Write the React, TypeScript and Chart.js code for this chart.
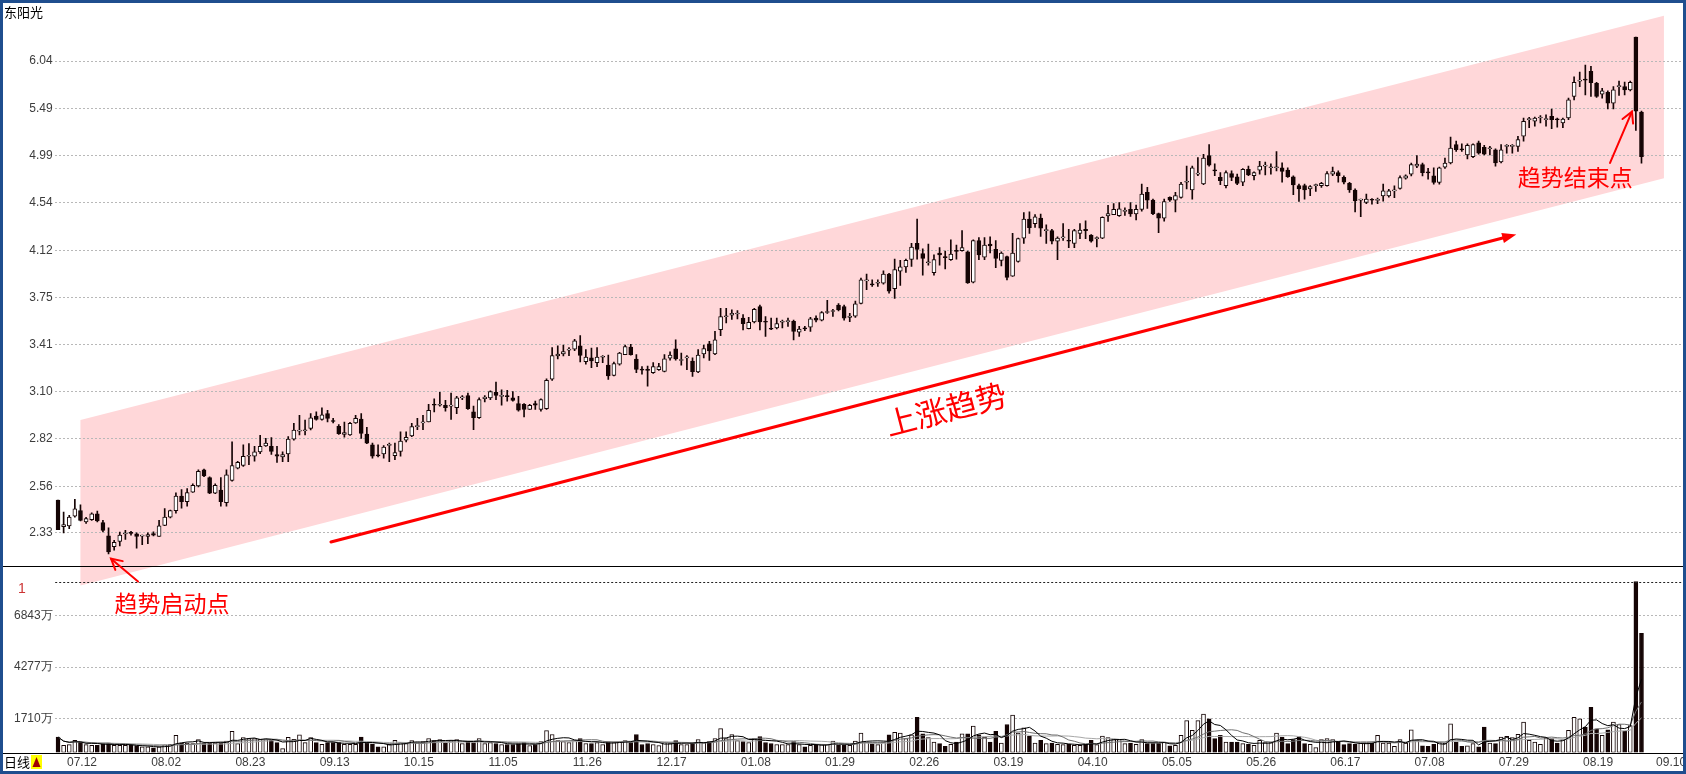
import React, { useEffect, useRef } from 'react';
import { Chart, registerables } from 'chart.js';

Chart.register(...registerables);

// ---------- data ----------
const stockName = '东阳光';

const opens = [
  2.49, 2.36, 2.363, 2.41, 2.438, 2.382, 2.393, 2.422, 2.379, 2.316,
  2.266, 2.29, 2.325, 2.33, 2.326, 2.315, 2.314, 2.327, 2.314, 2.366,
  2.406, 2.437, 2.51, 2.482, 2.53, 2.562, 2.647, 2.605, 2.525, 2.54,
  2.477, 2.59, 2.656, 2.67, 2.72, 2.72, 2.744, 2.778, 2.775, 2.729,
  2.716, 2.733, 2.816, 2.862, 2.864, 2.878, 2.95, 2.93, 2.965, 2.92,
  2.89, 2.843, 2.84, 2.91, 2.932, 2.845, 2.784, 2.724, 2.733, 2.78,
  2.724, 2.747, 2.81, 2.834, 2.888, 2.91, 2.915, 3.02, 3.015, 3.015,
  3.01, 3.0, 3.06, 3.075, 2.975, 2.94, 3.055, 3.06, 3.095, 3.07,
  3.07, 3.06, 3.025, 3.02, 2.99, 3.025, 2.99, 2.995, 3.178, 3.33,
  3.344, 3.37, 3.377, 3.40, 3.292, 3.318, 3.286, 3.322, 3.27, 3.203,
  3.275, 3.34, 3.39, 3.31, 3.24, 3.237, 3.22, 3.24, 3.228, 3.315,
  3.378, 3.30, 3.318, 3.296, 3.225, 3.345, 3.413, 3.345, 3.512, 3.605,
  3.617, 3.625, 3.595, 3.519, 3.567, 3.679, 3.567, 3.517, 3.524, 3.565,
  3.57, 3.572, 3.495, 3.52, 3.529, 3.595, 3.58, 3.636, 3.643, 3.69,
  3.679, 3.60, 3.61, 3.703, 3.876, 3.847, 3.857, 3.857, 3.93, 3.815,
  3.953, 3.987, 4.047, 4.18, 4.095, 4.02, 3.94, 4.1, 4.065, 4.045,
  4.115, 4.12, 4.11, 3.866, 4.205, 4.065, 4.175, 4.13, 4.04, 4.07,
  3.913, 4.03, 4.225, 4.39, 4.35, 4.4, 4.29, 4.29, 4.2, 4.227,
  4.2, 4.18, 4.265, 4.3, 4.25, 4.22, 4.225, 4.418, 4.43, 4.42,
  4.46, 4.477, 4.436, 4.477, 4.634, 4.562, 4.439, 4.398, 4.587, 4.562,
  4.587, 4.729, 4.656, 4.807, 4.713, 4.99, 4.84, 4.776, 4.697, 4.814,
  4.782, 4.729, 4.855, 4.792, 4.845, 4.886, 4.87, 4.87, 4.87, 4.848,
  4.782, 4.697, 4.697, 4.666, 4.697, 4.697, 4.697, 4.807, 4.823, 4.776,
  4.719, 4.656, 4.562, 4.54, 4.562, 4.56, 4.60, 4.6, 4.648, 4.67,
  4.768, 4.806, 4.885, 4.901, 4.822, 4.79, 4.727, 4.876, 4.917, 5.103,
  5.05, 4.997, 4.98, 5.12, 5.074, 5.06, 5.05, 4.927, 5.085, 5.085,
  5.085, 5.19, 5.366, 5.349, 5.384, 5.366, 5.402, 5.366, 5.331, 5.384,
  5.623, 5.80, 5.813, 5.915, 5.775, 5.649, 5.672, 5.547, 5.737, 5.737,
  5.699, 6.34, 5.448,
];

const highs = [
  2.49, 2.43, 2.414, 2.493, 2.466, 2.405, 2.427, 2.435, 2.39, 2.354,
  2.296, 2.334, 2.342, 2.338, 2.33, 2.32, 2.33, 2.335, 2.39, 2.448,
  2.44, 2.526, 2.543, 2.548, 2.573, 2.647, 2.65, 2.61, 2.573, 2.605,
  2.647, 2.80, 2.692, 2.784, 2.79, 2.775, 2.838, 2.82, 2.824, 2.775,
  2.744, 2.83, 2.907, 2.955, 2.926, 2.965, 2.975, 3.0, 2.985, 2.936,
  2.90, 2.915, 2.913, 2.955, 2.965, 2.884, 2.793, 2.784, 2.78, 2.793,
  2.793, 2.857, 2.857, 2.907, 2.936, 2.955, 3.02, 3.055, 3.095, 3.045,
  3.09, 3.07, 3.075, 3.09, 3.01, 3.06, 3.075, 3.104, 3.16, 3.11,
  3.107, 3.10, 3.07, 3.025, 3.02, 3.04, 3.055, 3.18, 3.388, 3.40,
  3.405, 3.388, 3.445, 3.47, 3.373, 3.384, 3.388, 3.333, 3.336, 3.29,
  3.355, 3.405, 3.41, 3.34, 3.26, 3.264, 3.286, 3.282, 3.34, 3.358,
  3.44, 3.35, 3.333, 3.318, 3.373, 3.405, 3.43, 3.50, 3.667, 3.667,
  3.655, 3.65, 3.62, 3.60, 3.667, 3.69, 3.607, 3.595, 3.595, 3.58,
  3.595, 3.58, 3.536, 3.536, 3.60, 3.612, 3.643, 3.726, 3.66, 3.702,
  3.69, 3.63, 3.72, 3.897, 3.93, 3.884, 3.884, 3.955, 3.935, 4.05,
  4.04, 4.05, 4.18, 4.39, 4.135, 4.175, 4.085, 4.145, 4.115, 4.21,
  4.165, 4.29, 4.115, 4.21, 4.23, 4.23, 4.235, 4.205, 4.11, 4.075,
  4.265, 4.225, 4.448, 4.455, 4.43, 4.435, 4.34, 4.3, 4.235, 4.35,
  4.3, 4.3, 4.35, 4.375, 4.255, 4.235, 4.41, 4.515, 4.53, 4.54,
  4.492, 4.54, 4.517, 4.713, 4.681, 4.571, 4.445, 4.571, 4.593, 4.634,
  4.729, 4.886, 4.886, 4.971, 5.004, 5.102, 4.908, 4.823, 4.839, 4.839,
  4.807, 4.861, 4.886, 4.829, 4.933, 4.927, 4.908, 5.032, 4.918, 4.87,
  4.792, 4.713, 4.713, 4.697, 4.713, 4.729, 4.833, 4.877, 4.839, 4.792,
  4.729, 4.666, 4.571, 4.618, 4.577, 4.58, 4.711, 4.663, 4.695, 4.79,
  4.80, 4.917, 4.99, 4.917, 4.863, 4.87, 4.876, 4.965, 5.18, 5.138,
  5.11, 5.11, 5.11, 5.138, 5.096, 5.085, 5.06, 5.103, 5.103, 5.103,
  5.19, 5.384, 5.391, 5.394, 5.412, 5.42, 5.483, 5.384, 5.384, 5.604,
  5.85, 5.907, 5.99, 5.977, 5.786, 5.718, 5.687, 5.737, 5.80, 5.79,
  5.80, 6.34, 5.46,
];

const lows = [
  2.345, 2.33, 2.35, 2.406, 2.387, 2.375, 2.39, 2.382, 2.335, 2.233,
  2.25, 2.27, 2.30, 2.32, 2.26, 2.275, 2.28, 2.316, 2.314, 2.364,
  2.402, 2.425, 2.45, 2.46, 2.528, 2.557, 2.61, 2.522, 2.522, 2.46,
  2.46, 2.587, 2.652, 2.665, 2.674, 2.693, 2.734, 2.775, 2.73, 2.687,
  2.69, 2.69, 2.81, 2.84, 2.84, 2.868, 2.925, 2.926, 2.915, 2.91,
  2.843, 2.827, 2.837, 2.907, 2.82, 2.79, 2.71, 2.716, 2.71, 2.69,
  2.702, 2.72, 2.80, 2.83, 2.87, 2.87, 2.915, 2.975, 3.01, 2.98,
  2.93, 2.965, 3.05, 2.99, 2.87, 2.936, 3.035, 3.05, 3.05, 3.015,
  3.04, 3.04, 2.98, 2.945, 2.99, 2.99, 2.98, 2.99, 3.17, 3.31,
  3.33, 3.333, 3.366, 3.29, 3.275, 3.253, 3.26, 3.286, 3.177, 3.199,
  3.27, 3.34, 3.336, 3.22, 3.21, 3.134, 3.215, 3.235, 3.225, 3.303,
  3.303, 3.27, 3.24, 3.195, 3.22, 3.318, 3.30, 3.34, 3.47, 3.56,
  3.585, 3.59, 3.51, 3.517, 3.56, 3.51, 3.465, 3.512, 3.517, 3.524,
  3.536, 3.44, 3.465, 3.505, 3.50, 3.567, 3.574, 3.63, 3.607, 3.648,
  3.58, 3.57, 3.60, 3.70, 3.807, 3.832, 3.832, 3.85, 3.78, 3.74,
  3.84, 3.942, 3.99, 4.05, 3.92, 4.0, 3.92, 4.0, 3.97, 4.04,
  4.05, 4.115, 3.855, 3.86, 4.045, 4.045, 4.1, 3.98, 3.995, 3.884,
  3.91, 4.025, 4.18, 4.265, 4.318, 4.24, 4.18, 4.175, 4.045, 4.205,
  4.145, 4.145, 4.22, 4.22, 4.19, 4.15, 4.22, 4.37, 4.43, 4.414,
  4.423, 4.414, 4.382, 4.461, 4.486, 4.429, 4.272, 4.373, 4.549, 4.455,
  4.58, 4.666, 4.571, 4.792, 4.706, 4.886, 4.792, 4.706, 4.675, 4.744,
  4.706, 4.697, 4.792, 4.751, 4.807, 4.801, 4.807, 4.839, 4.729, 4.776,
  4.612, 4.549, 4.571, 4.603, 4.643, 4.681, 4.691, 4.792, 4.729, 4.713,
  4.634, 4.455, 4.413, 4.53, 4.524, 4.53, 4.552, 4.59, 4.584, 4.664,
  4.758, 4.79, 4.87, 4.79, 4.759, 4.711, 4.711, 4.863, 4.908, 5.032,
  5.032, 4.957, 4.97, 5.004, 4.997, 4.997, 4.885, 4.917, 5.015, 5.015,
  5.032, 5.138, 5.279, 5.296, 5.331, 5.296, 5.27, 5.286, 5.279, 5.366,
  5.585, 5.737, 5.642, 5.623, 5.612, 5.604, 5.483, 5.483, 5.634, 5.642,
  5.687, 5.25, 4.915,
];

const closes = [
  2.345, 2.37, 2.406, 2.446, 2.39, 2.398, 2.422, 2.387, 2.342, 2.243,
  2.286, 2.32, 2.327, 2.328, 2.314, 2.316, 2.322, 2.32, 2.364, 2.406,
  2.437, 2.51, 2.482, 2.528, 2.565, 2.638, 2.614, 2.525, 2.565, 2.482,
  2.62, 2.669, 2.687, 2.72, 2.72, 2.744, 2.775, 2.793, 2.747, 2.72,
  2.729, 2.816, 2.868, 2.864, 2.866, 2.94, 2.93, 2.957, 2.936, 2.918,
  2.847, 2.853, 2.907, 2.936, 2.849, 2.793, 2.72, 2.722, 2.771, 2.787,
  2.74, 2.805, 2.826, 2.888, 2.89, 2.915, 2.985, 3.015, 3.02, 3.0,
  3.01, 3.06, 3.065, 2.994, 2.94, 3.05, 3.065, 3.10, 3.075, 3.07,
  3.068, 3.045, 2.985, 2.99, 3.015, 3.015, 3.05, 3.17, 3.333, 3.344,
  3.36, 3.37, 3.433, 3.335, 3.323, 3.297, 3.323, 3.323, 3.199, 3.28,
  3.35, 3.395, 3.34, 3.242, 3.237, 3.235, 3.26, 3.26, 3.312, 3.336,
  3.31, 3.30, 3.32, 3.227, 3.336, 3.38, 3.365, 3.44, 3.607, 3.607,
  3.63, 3.626, 3.555, 3.565, 3.66, 3.567, 3.565, 3.515, 3.555, 3.567,
  3.572, 3.50, 3.517, 3.518, 3.59, 3.58, 3.636, 3.638, 3.645, 3.655,
  3.595, 3.61, 3.70, 3.884, 3.878, 3.845, 3.858, 3.93, 3.795, 3.966,
  3.987, 4.04, 4.15, 4.13, 4.055, 4.02, 4.045, 4.085, 4.062, 4.09,
  4.113, 4.145, 3.86, 4.205, 4.085, 4.165, 4.16, 4.055, 4.1, 3.903,
  4.1, 4.22, 4.39, 4.315, 4.41, 4.31, 4.29, 4.2, 4.225, 4.228,
  4.198, 4.29, 4.295, 4.29, 4.2, 4.222, 4.405, 4.44, 4.477, 4.483,
  4.461, 4.436, 4.477, 4.618, 4.562, 4.439, 4.398, 4.549, 4.562, 4.603,
  4.713, 4.73, 4.87, 4.808, 4.965, 4.895, 4.839, 4.744, 4.823, 4.776,
  4.719, 4.855, 4.801, 4.823, 4.886, 4.887, 4.871, 4.871, 4.833, 4.782,
  4.703, 4.666, 4.656, 4.688, 4.698, 4.719, 4.814, 4.833, 4.792, 4.729,
  4.656, 4.555, 4.563, 4.571, 4.561, 4.56, 4.648, 4.648, 4.65, 4.774,
  4.79, 4.901, 4.907, 4.822, 4.82, 4.727, 4.87, 4.917, 5.067, 5.05,
  5.049, 5.096, 5.103, 5.015, 5.004, 5.06, 4.917, 5.05, 5.086, 5.086,
  5.156, 5.349, 5.367, 5.384, 5.385, 5.367, 5.366, 5.365, 5.373, 5.585,
  5.786, 5.801, 5.812, 5.782, 5.623, 5.687, 5.547, 5.699, 5.738, 5.699,
  5.786, 5.46, 4.98,
];

// volume, in 万
const volumes = [
  776, 363, 396, 610, 528, 396, 363, 363, 445, 478,
  363, 363, 363, 363, 330, 280, 280, 231, 280, 396,
  413, 858, 478, 478, 445, 644, 478, 478, 478, 478,
  578, 1056, 445, 743, 693, 693, 677, 644, 610, 495,
  198, 760, 660, 891, 495, 743, 495, 413, 495, 495,
  495, 413, 413, 413, 776, 495, 413, 280, 280, 413,
  610, 500, 450, 600, 500, 550, 700, 600, 650, 500,
  600, 650, 450, 550, 500, 700, 450, 500, 450, 400,
  400, 400, 450, 500, 350, 400, 550, 1100, 900, 600,
  550, 500, 600, 700, 450, 450, 500, 400, 550, 500,
  550, 600, 500, 900, 400, 450, 400, 350, 500, 450,
  600, 400, 400, 500, 650, 500, 550, 700, 1200, 700,
  900, 600, 550, 500, 700, 800, 500, 450, 400, 400,
  400, 550, 400, 280, 363, 396, 396, 413, 578, 363,
  363, 363, 578, 974, 528, 445, 396, 528, 891, 1007,
  974, 693, 891, 1766, 941, 743, 528, 445, 314, 413,
  528, 941, 941, 1320, 891, 776, 528, 1056, 478, 1403,
  1881, 974, 1238, 809, 478, 610, 445, 478, 413, 396,
  413, 363, 363, 413, 610, 396, 825, 743, 644, 644,
  445, 478, 413, 644, 445, 445, 445, 528, 330, 363,
  858, 1600, 1106, 1600, 1931, 1683, 693, 858, 528, 528,
  528, 445, 413, 363, 610, 495, 495, 974, 776, 445,
  644, 800, 445, 413, 248, 644, 693, 644, 528, 396,
  445, 413, 478, 478, 478, 858, 478, 478, 314, 644,
  478, 1139, 610, 330, 314, 413, 528, 478, 1436, 528,
  314, 330, 445, 280, 1270, 478, 445, 776, 809, 743,
  908, 1518, 610, 528, 413, 726, 693, 478, 644, 1106,
  1766, 1683, 1270, 2261, 1188, 858, 1139, 1518, 1403, 1073,
  1353, 8560, 5973,
];

const SLOT_COUNT = 290; // trading-day slots on the x axis (last ones empty)
const tickLabels = ['07.12', '08.02', '08.23', '09.13', '10.15', '11.05', '11.26', '12.17', '01.08', '01.29',
  '02.26', '03.19', '04.10', '05.05', '05.26', '06.17', '07.08', '07.29', '08.19', '09.10'];
const tickSlots = [4, 19, 34, 49, 64, 79, 94, 109, 124, 139, 154, 169, 184, 199, 214, 229, 244, 259, 274, 287];

const priceTicks = [2.33, 2.56, 2.82, 3.10, 3.41, 3.75, 4.12, 4.54, 4.99, 5.49, 6.04];
const priceMin = 2.181;
const priceMax = 6.70;
const volumeTicks = [1710.7, 4277, 6843];
const volumeMax = 9360;
const volumeTopLine = 8560;
const volumeTopLabel = '1';

// annotations in data space: [slot index, price]
const bandCorners = [[4, 2.927], [286, 6.62], [286, 4.768], [4, 2.096]];
const trendArrow = [[48.6, 2.288], [259.7, 4.256]];
const trendText = { text: '上涨趋势', at: [158.1, 2.992] };
const startArrow = [[14.25, 2.112], [9.44, 2.212]];
const startText = { text: '趋势启动点', at: [20.3, 2.021] };
const endArrow = [[276.4, 4.917], [280.3, 5.454]];
const endText = { text: '趋势结束点', at: [270.2, 4.779] };

// ---------- helpers ----------
const movingAverage = (vals: number[], n: number) =>
  vals.map((_, i) => {
    const s = Math.max(0, i - n + 1);
    let sum = 0;
    for (let k = s; k <= i; k++) sum += vals[k];
    return sum / (i - s + 1);
  });

const INK = '#140404';
const isUp = (i: number) => closes[i] >= opens[i];

function drawArrow(ctx: CanvasRenderingContext2D, x1: number, y1: number, x2: number, y2: number,
  width: number, head: number, filled: boolean) {
  const a = Math.atan2(y2 - y1, x2 - x1);
  ctx.save();
  ctx.strokeStyle = '#ff0000';
  ctx.fillStyle = '#ff0000';
  ctx.lineWidth = width;
  ctx.lineCap = 'round';
  ctx.beginPath();
  const endX = filled ? x2 - Math.cos(a) * head * 0.8 : x2;
  const endY = filled ? y2 - Math.sin(a) * head * 0.8 : y2;
  ctx.moveTo(x1, y1);
  ctx.lineTo(endX, endY);
  ctx.stroke();
  const sp = filled ? 0.35 : 0.5;
  const p1 = [x2 - head * Math.cos(a - sp), y2 - head * Math.sin(a - sp)];
  const p2 = [x2 - head * Math.cos(a + sp), y2 - head * Math.sin(a + sp)];
  ctx.beginPath();
  if (filled) {
    ctx.moveTo(x2, y2);
    ctx.lineTo(p1[0], p1[1]);
    ctx.lineTo(p2[0], p2[1]);
    ctx.closePath();
    ctx.fill();
  } else {
    ctx.moveTo(p1[0], p1[1]);
    ctx.lineTo(x2, y2);
    ctx.lineTo(p2[0], p2[1]);
    ctx.stroke();
  }
  ctx.restore();
}

const overlayPlugin = {
  id: 'overlay',
  beforeDraw(chart: any) {
    const { ctx, scales } = chart;
    const xs = scales.x, ys = scales.y;
    ctx.save();
    ctx.fillStyle = '#ffffff';
    ctx.fillRect(0, 0, chart.width, chart.height);
    ctx.fillStyle = '#ffd7d9';
    ctx.beginPath();
    bandCorners.forEach(([i, p], k) => {
      const px = xs.getPixelForValue(i);
      const py = ys.getPixelForValue(p);
      if (k === 0) ctx.moveTo(px, py); else ctx.lineTo(px, py);
    });
    ctx.closePath();
    ctx.fill();
    ctx.restore();
  },
  afterDraw(chart: any) {
    const { ctx, scales, chartArea } = chart;
    const xs = scales.x, ys = scales.y, yv = scales.yv;
    const P = (pt: number[]) => [xs.getPixelForValue(pt[0]), ys.getPixelForValue(pt[1])];
    ctx.save();
    // panel separators
    ctx.fillStyle = '#000';
    ctx.fillRect(3, Math.round(ys.bottom), chart.width - 6, 1);
    ctx.fillRect(3, Math.round(chartArea.bottom), chart.width - 6, 1);
    // volume top dotted line
    const ly = Math.round(yv.getPixelForValue(volumeTopLine)) + 0.5;
    ctx.strokeStyle = '#222';
    ctx.lineWidth = 1;
    ctx.setLineDash([2, 2]);
    ctx.beginPath();
    ctx.moveTo(chartArea.left, ly);
    ctx.lineTo(chartArea.right, ly);
    ctx.stroke();
    ctx.setLineDash([]);
    ctx.fillStyle = '#cc3333';
    ctx.font = '14px "Liberation Sans"';
    ctx.textBaseline = 'middle';
    ctx.textAlign = 'left';
    ctx.fillText(volumeTopLabel, 18, ly + 7);
    // stock name
    ctx.fillStyle = '#000';
    ctx.font = '13px "Noto Sans CJK SC"';
    ctx.fillText(stockName, 4, 12);
    // bottom-left period label
    ctx.fillText('日线', 4, 762);
    ctx.fillStyle = '#ffff00';
    ctx.fillRect(31, 755, 11, 14);
    ctx.fillStyle = '#a00000';
    ctx.beginPath();
    ctx.moveTo(36.5, 757);
    ctx.lineTo(40.5, 767);
    ctx.lineTo(32.5, 767);
    ctx.closePath();
    ctx.fill();
    // arrows
    const [a1, a2] = [P(trendArrow[0]), P(trendArrow[1])];
    drawArrow(ctx, a1[0], a1[1], a2[0], a2[1], 3, 15, true);
    const [s1, s2] = [P(startArrow[0]), P(startArrow[1])];
    drawArrow(ctx, s1[0], s1[1], s2[0], s2[1], 2, 12, false);
    const [e1, e2] = [P(endArrow[0]), P(endArrow[1])];
    drawArrow(ctx, e1[0], e1[1], e2[0], e2[1], 2, 12, false);
    // texts
    ctx.fillStyle = '#ff0000';
    ctx.textAlign = 'center';
    ctx.textBaseline = 'middle';
    const tc = P(trendText.at);
    ctx.save();
    ctx.translate(tc[0], tc[1]);
    ctx.rotate(Math.atan2(a2[1] - a1[1], a2[0] - a1[0]));
    ctx.font = '31px "Noto Sans CJK SC"';
    ctx.fillText(trendText.text, 0, 0);
    ctx.restore();
    ctx.font = '23px "Noto Sans CJK SC"';
    const st = P(startText.at);
    ctx.fillText(startText.text, st[0], st[1]);
    const et = P(endText.at);
    ctx.fillText(endText.text, et[0], et[1]);
    // frame
    ctx.strokeStyle = '#1f4e8e';
    ctx.lineWidth = 3;
    ctx.strokeRect(1.5, 1.5, chart.width - 3, chart.height - 3);
    ctx.restore();
  },
};

const tickFont = { family: '"Liberation Sans", sans-serif', size: 12 };
const tickColor = '#3c3c3c';
const gridColor = '#b8b8b8';

export default function App() {
  const ref = useRef<HTMLCanvasElement>(null);
  useEffect(() => {
    document.body.style.margin = '0';
    const slots = Array.from({ length: SLOT_COUNT }, (_, i) => String(i));
    const upDownFill = closes.map((_, i) => (isUp(i) ? '#ffffff' : INK));
    const chart = new Chart(ref.current as HTMLCanvasElement, {
      type: 'bar',
      data: {
        labels: slots,
        datasets: [
          {
            type: 'bar',
            label: 'body',
            data: opens.map((o, i) => [o, closes[i]]) as any,
            yAxisID: 'y',
            backgroundColor: upDownFill,
            borderColor: INK,
            borderWidth: 1,
            borderSkipped: false,
            barThickness: 4,
            minBarLength: 1,
            grouped: false,
            order: 0,
          } as any,
          {
            type: 'bar',
            label: 'wick',
            data: lows.map((l, i) => [l, highs[i]]) as any,
            yAxisID: 'y',
            backgroundColor: INK,
            borderWidth: 0,
            barThickness: 1,
            minBarLength: 1,
            grouped: false,
            order: 2,
          } as any,
          {
            type: 'line',
            label: 'MA5',
            data: movingAverage(volumes, 5),
            yAxisID: 'yv',
            borderColor: '#000000',
            borderWidth: 1,
            pointRadius: 0,
            tension: 0,
            order: 0,
          } as any,
          {
            type: 'line',
            label: 'MA10',
            data: movingAverage(volumes, 10),
            yAxisID: 'yv',
            borderColor: '#707070',
            borderWidth: 1,
            pointRadius: 0,
            tension: 0,
            order: 0,
          } as any,
          {
            type: 'line',
            label: 'MA20',
            data: movingAverage(volumes, 20),
            yAxisID: 'yv',
            borderColor: '#a8a8a8',
            borderWidth: 1,
            pointRadius: 0,
            tension: 0,
            order: 0,
          } as any,
          {
            type: 'bar',
            label: 'volume',
            data: volumes,
            yAxisID: 'yv',
            backgroundColor: upDownFill,
            borderColor: INK,
            borderWidth: 1,
            borderSkipped: false,
            barThickness: 4,
            grouped: false,
            order: 1,
          } as any,
        ],
      },
      options: {
        responsive: false,
        animation: false,
        devicePixelRatio: 1,
        layout: { padding: { left: 3, right: 2.4, top: 3, bottom: 4 } },
        plugins: { legend: { display: false }, tooltip: { enabled: false } },
        scales: {
          x: {
            type: 'category',
            offset: true,
            grid: { display: false, drawTicks: false, tickLength: 0 },
            border: { display: false },
            ticks: {
              autoSkip: false,
              maxRotation: 0,
              minRotation: 0,
              padding: 3,
              labelOffset: 1.5,
              font: tickFont,
              color: tickColor,
              callback: (_v: any, idx: number) => {
                const k = tickSlots.indexOf(idx);
                return k >= 0 ? tickLabels[k] : '';
              },
            },
            afterFit: (s: any) => { s.height = 17.5; },
          },
          y: {
            type: 'logarithmic',
            position: 'left',
            stack: 'panes',
            stackWeight: 561,
            weight: 2,
            min: priceMin,
            max: priceMax,
            bounds: 'data',
            grid: { color: gridColor, drawTicks: false },
            border: { display: false, dash: [2, 2] },
            afterBuildTicks: (s: any) => { s.ticks = priceTicks.map((v) => ({ value: v })); },
            ticks: {
              autoSkip: false,
              padding: 2.5,
              font: tickFont,
              color: tickColor,
              callback: (v: any) => Number(v).toFixed(2),
            },
            afterFit: (s: any) => { s.width = 52.2; },
          },
          yv: {
            type: 'linear',
            position: 'left',
            stack: 'panes',
            stackWeight: 188.5,
            weight: 1,
            min: 0,
            max: volumeMax,
            bounds: 'data',
            grid: { color: gridColor, drawTicks: false },
            border: { display: false, dash: [2, 2] },
            afterBuildTicks: (s: any) => { s.ticks = volumeTicks.map((v) => ({ value: v })); },
            ticks: {
              autoSkip: false,
              padding: 2.5,
              font: tickFont,
              color: tickColor,
              callback: (v: any) => Math.floor(Number(v)) + '万',
            },
            afterFit: (s: any) => { s.width = 52.2; },
          },
        },
      } as any,
      plugins: [overlayPlugin],
    });
    return () => chart.destroy();
  }, []);
  return (
    <div style={{ width: 1686, height: 774 }}>
      <canvas ref={ref} width={1686} height={774} style={{ display: 'block' }} />
    </div>
  );
}
